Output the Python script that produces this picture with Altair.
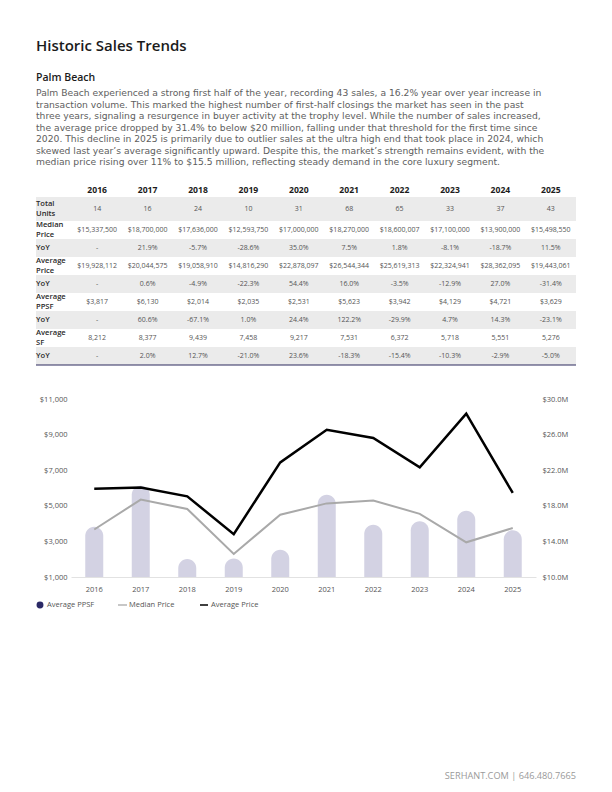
import altair as alt
import pandas as pd

FONT = "Open Sans"
BODY_FONT = "DejaVu Sans"

# ---------------- data ----------------
years = ["2016", "2017", "2018", "2019", "2020", "2021", "2022", "2023", "2024", "2025"]
total_units = [14, 16, 24, 10, 31, 68, 65, 33, 37, 43]
median_price = [15337500, 18700000, 17636000, 12593750, 17000000, 18270000, 18600007, 17100000, 13900000, 15498550]
median_yoy = [None, 21.9, -5.7, -28.6, 35.0, 7.5, 1.8, -8.1, -18.7, 11.5]
avg_price = [19928112, 20044575, 19058910, 14816290, 22878097, 26544344, 25619313, 22324941, 28362095, 19443061]
avg_yoy = [None, 0.6, -4.9, -22.3, 54.4, 16.0, -3.5, -12.9, 27.0, -31.4]
avg_ppsf = [3817, 6130, 2014, 2035, 2531, 5623, 3942, 4129, 4721, 3629]
ppsf_yoy = [None, 60.6, -67.1, 1.0, 24.4, 122.2, -29.9, 4.7, 14.3, -23.1]
avg_sf = [8212, 8377, 9439, 7458, 9217, 7531, 6372, 5718, 5551, 5276]
sf_yoy = [None, 2.0, 12.7, -21.0, 23.6, -18.3, -15.4, -10.3, -2.9, -5.0]

row_labels = ["Total\nUnits", "Median\nPrice", "YoY", "Average\nPrice", "YoY",
              "Average\nPPSF", "YoY", "Average\nSF", "YoY"]
shaded_rows = [True, False, True, False, True, False, True, False, True]

title_text = "Historic Sales Trends"
subtitle_text = "Palm Beach"
paragraph = [
    "Palm Beach experienced a strong first half of the year, recording 43 sales, a 16.2% year over year increase in",
    "transaction volume. This marked the highest number of first-half closings the market has seen in the past",
    "three years, signaling a resurgence in buyer activity at the trophy level. While the number of sales increased,",
    "the average price dropped by 31.4% to below $20 million, falling under that threshold for the first time since",
    "2020. This decline in 2025 is primarily due to outlier sales at the ultra high end that took place in 2024, which",
    "skewed last year\u2019s average significantly upward. Despite this, the market\u2019s strength remains evident, with the",
    "median price rising over 11% to $15.5 million, reflecting steady demand in the core luxury segment.",
]
legend_items = ["Average PPSF", "Median Price", "Average Price"]
footer_text = "SERHANT.COM | 646.480.7665"

left_ticks = [1000, 3000, 5000, 7000, 9000, 11000]
right_ticks = [10e6, 14e6, 18e6, 22e6, 26e6, 30e6]


# ---------------- helpers ----------------
def money(v):
    return "${:,}".format(v)


def pct(v):
    return "-" if v is None else "{:.1f}%".format(v)


def num(v):
    return "{:,}".format(v)


row_values = [
    [str(v) for v in total_units],
    [money(v) for v in median_price],
    [pct(v) for v in median_yoy],
    [money(v) for v in avg_price],
    [pct(v) for v in avg_yoy],
    [money(v) for v in avg_ppsf],
    [pct(v) for v in ppsf_yoy],
    [num(v) for v in avg_sf],
    [pct(v) for v in sf_yoy],
]

one = pd.DataFrame({"k": [0]})

# ---------------- header block ----------------
header = alt.layer(
    alt.Chart(one).mark_text(text=title_text, font=FONT, fontSize=15, fontWeight=600,
                             color="#1b1b1b", align="left", baseline="middle")
    .encode(x=alt.value(28), y=alt.value(37.5)),
    alt.Chart(one).mark_text(text=subtitle_text, font=FONT, fontSize=10.5, fontWeight=600,
                             color="#1b1b1b", align="left", baseline="middle")
    .encode(x=alt.value(28), y=alt.value(70)),
    alt.Chart(one).mark_text(text=paragraph, font=BODY_FONT, fontSize=9.2, lineHeight=11.5,
                             color="#5e5e5e", align="left", baseline="middle")
    .encode(x=alt.value(28), y=alt.value(85)),
).properties(width=596, height=170)

# ---------------- table ----------------
TABLE_H = 221
ROW_H = [24] + [18] * 8
TOP = 19
LABEL_LH = 9.5
tops = []
cur = TOP
for h in ROW_H:
    tops.append(cur)
    cur += h

rows_df = pd.DataFrame({
    "label": row_labels,
    "top": tops,
    "bottom": [t + h for t, h in zip(tops, ROW_H)],
    "ylab": [t + h / 2 - (LABEL_LH / 2 if "\n" in lab else 0)
             for t, h, lab in zip(tops, ROW_H, row_labels)],
    "shaded": shaded_rows,
})
cells = []
for i, vals in enumerate(row_values):
    for yr, txt in zip(years, vals):
        cells.append({"year": yr, "text": txt, "yc": tops[i] + ROW_H[i] / 2})
cells_df = pd.DataFrame(cells)
years_df = pd.DataFrame({"year": years})
bottom_df = pd.DataFrame({"yb": [tops[-1] + ROW_H[-1]]})

yscale = alt.Scale(domain=[0, TABLE_H], reverse=True, nice=False, zero=False)
xscale = alt.Scale(domain=years, range=[64, 568], paddingInner=0, paddingOuter=0)

table = alt.layer(
    alt.Chart(rows_df[rows_df["shaded"]]).mark_rect(color="#ebebeb").encode(
        x=alt.value(28), x2=alt.value(568),
        y=alt.Y("top:Q", scale=yscale, axis=None), y2="bottom:Q"),
    alt.Chart(rows_df).mark_text(font=FONT, fontSize=7.6, fontWeight=600, color="#2a2a2a",
                                 align="left", baseline="middle", lineBreak="\n", lineHeight=LABEL_LH)
    .encode(x=alt.value(28), y=alt.Y("ylab:Q", scale=yscale, axis=None), text="label:N"),
    alt.Chart(cells_df).mark_text(font=FONT, fontSize=7, color="#555555", baseline="middle")
    .encode(x=alt.X("year:O", scale=xscale, axis=None),
            y=alt.Y("yc:Q", scale=yscale, axis=None), text="text:N"),
    alt.Chart(years_df).mark_text(font=FONT, fontSize=8.6, fontWeight=700, color="#1b1b1b",
                                  baseline="middle")
    .encode(x=alt.X("year:O", scale=xscale, axis=None), y=alt.value(12), text="year:N"),
    alt.Chart(bottom_df).mark_rule(color="#2d2b5e", strokeWidth=1.2).encode(
        x=alt.value(28), x2=alt.value(568), y=alt.Y("yb:Q", scale=yscale, axis=None)),
).properties(width=596, height=TABLE_H)

# ---------------- combo chart ----------------
bar_df = pd.DataFrame({"year": years, "ppsf": avg_ppsf})
line_df = pd.DataFrame({
    "year": years * 2,
    "series": ["Median Price"] * len(years) + ["Average Price"] * len(years),
    "value": median_price + avg_price,
})

axis_common = dict(title=None, labelFont=FONT, labelFontSize=7.5, labelColor="#555555",
                   ticks=False, domain=False, grid=False)

bars = alt.Chart(bar_df).mark_bar(size=18, color="#d3d2e3", cornerRadiusTopLeft=9,
                                  cornerRadiusTopRight=9).encode(
    x=alt.X("year:O", scale=alt.Scale(paddingInner=0, paddingOuter=0),
            axis=alt.Axis(title=None, labelAngle=0, ticks=False, domainColor="#e2e2e2",
                          labelPadding=8, labelFont=FONT, labelFontSize=7.5,
                          labelColor="#555555", grid=False)),
    y=alt.Y("ppsf:Q", scale=alt.Scale(domain=[1000, 11000], nice=False, zero=False),
            axis=alt.Axis(orient="left", values=left_ticks, format="$,.0f",
                          labelPadding=4, **axis_common)),
    y2=alt.datum(1000),
)

lines = alt.Chart(line_df).mark_line(strokeJoin="miter").encode(
    x="year:O",
    y=alt.Y("value:Q", scale=alt.Scale(domain=[10e6, 30e6], nice=False, zero=False),
            axis=alt.Axis(orient="right", values=right_ticks,
                          labelExpr="'$' + format(datum.value / 1000000, '.1f') + 'M'",
                          labelPadding=6, **axis_common)),
    color=alt.Color("series:N", scale=alt.Scale(domain=["Median Price", "Average Price"],
                                                range=["#a9a9a9", "#000000"]), legend=None),
    strokeWidth=alt.StrokeWidth("series:N", scale=alt.Scale(domain=["Median Price", "Average Price"],
                                                            range=[2, 2.5]), legend=None),
)

# legend + footer (positions relative to the plot area of the combo chart)
LEG_Y = 206
legend_layers = [
    alt.Chart(one).mark_point(shape="circle", filled=True, size=48, color="#2b2966", opacity=1)
    .encode(x=alt.value(-31), y=alt.value(LEG_Y)),
    alt.Chart(one).mark_rule(color="#b5b5b5", strokeWidth=1.5)
    .encode(x=alt.value(47), x2=alt.value(56), y=alt.value(LEG_Y)),
    alt.Chart(one).mark_rule(color="#000000", strokeWidth=1.5)
    .encode(x=alt.value(129), x2=alt.value(137), y=alt.value(LEG_Y)),
]
for label, xpos in zip(legend_items, [-24, 58, 140]):
    legend_layers.append(
        alt.Chart(one).mark_text(text=label, font=FONT, fontSize=7.5, color="#555555",
                                 align="left", baseline="middle")
        .encode(x=alt.value(xpos), y=alt.value(LEG_Y)))
legend_layers.append(
    alt.Chart(one).mark_text(text=footer_text, font=FONT, fontSize=9.2, fontWeight=500,
                             color="#9a9a9a", align="right", baseline="middle")
    .encode(x=alt.value(505), y=alt.value(377)))

combo = alt.layer(bars, lines, *legend_layers).resolve_scale(y="independent").properties(
    width=465, height=178)
spacer = alt.Chart(one).mark_text(text="").encode(x=alt.value(0)).properties(width=63, height=178)
combo_row = alt.hconcat(spacer, combo, spacing=0, bounds="flush")

chart = alt.vconcat(header, table, combo_row, spacing=0, bounds="flush").properties(
    padding=0
).configure(font=FONT, view=alt.ViewConfig(stroke=None))

chart.save("out.html", embed_options={"renderer": "svg", "actions": False})
